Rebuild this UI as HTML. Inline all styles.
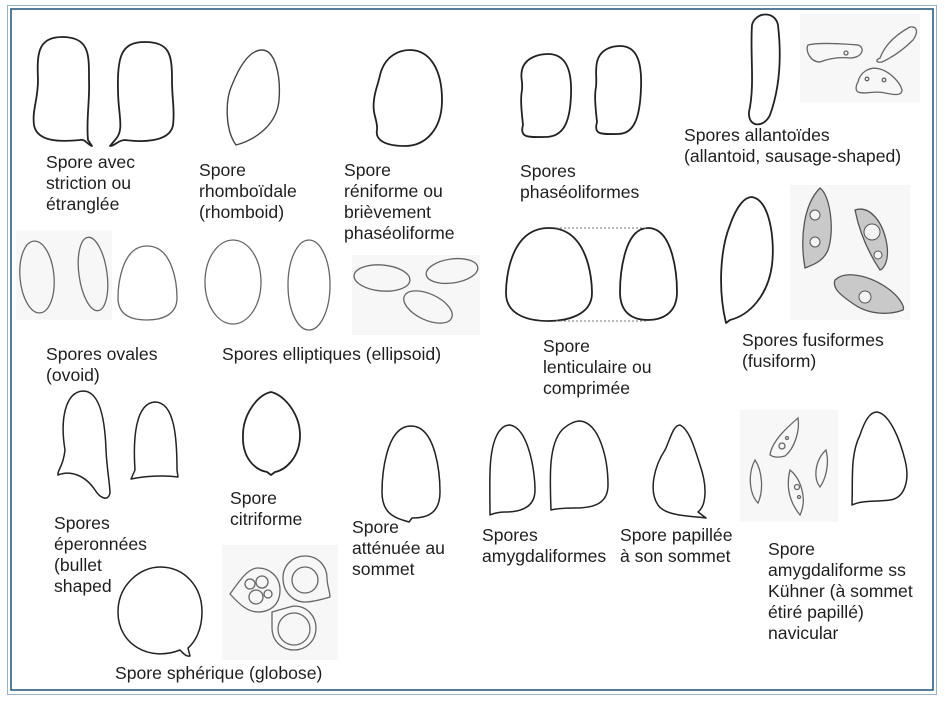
<!DOCTYPE html>
<html><head><meta charset="utf-8"><style>
html,body{margin:0;padding:0;background:#fff;}
svg{display:block;}
text{font-family:"Liberation Sans",Arial,sans-serif;font-size:17.6px;fill:#1e1e1e;}
.d{fill:none;stroke:#222;stroke-width:1.8;stroke-linejoin:round;}
.l{fill:none;stroke:#666;stroke-width:1.3;}
.g{fill:#c9c9c9;stroke:#555;stroke-width:1.3;}
.bg{fill:#f7f7f7;}
</style></head><body>
<svg width="945" height="701" viewBox="0 0 945 701" xmlns="http://www.w3.org/2000/svg">
<rect x="7.5" y="5.5" width="929" height="689" fill="none" stroke="#9bb3c9" stroke-width="1"/>
<rect x="11" y="9" width="922" height="681" fill="none" stroke="#2b5b80" stroke-width="1.6"/>

<rect class="bg" x="16" y="230" width="96" height="90"/>
<rect class="bg" x="800" y="14" width="120" height="88"/>
<rect class="bg" x="790" y="185" width="120" height="135"/>
<rect class="bg" x="352" y="255" width="128" height="80"/>
<rect class="bg" x="740" y="410" width="98" height="112"/>
<rect class="bg" x="222" y="545" width="116" height="115"/>

<path class="d" d="M88 140 C86 120 90 100 89 80 C89 55 90 37 62 37 C37 37 37 55 38 80 C38 100 32 110 34 125 C37 142 60 142 80 140 C85 139 87 144 92 146 Z"/>
<path class="d" d="M115 140 C125 130 118 115 118 90 C117 55 122 42 145 42 C170 42 172 55 172 80 C172 100 175 110 173 125 C170 143 140 142 125 140 C118 140 115 146 110 146 Z"/>
<path class="d" d="M236 145 C225 130 225 100 232 85 C240 65 250 50 262 50 C275 50 281 75 279 100 C277 125 255 140 236 145 Z" style="stroke:#444;stroke-width:1.4"/>
<path class="d" d="M380 75 C385 55 400 50 410 50 C430 50 442 70 442 100 C442 130 425 146 405 146 C385 146 375 140 377 130 C378 120 372 115 374 100 C375 90 378 85 380 75 Z"/>
<path class="d" d="M522 70 C525 57 540 54 548 54 C566 54 572 70 571 95 C570 125 562 137 545 137 C530 137 519 139 523 125 C522 115 520 100 522 90 C523 80 520 78 522 70 Z"/>
<path class="d" d="M597 62 C600 49 612 46 620 46 C637 46 642 62 641 88 C640 118 634 134 618 134 C603 134 593 136 597 122 C596 112 594 97 596 87 C597 77 595 72 597 62 Z"/>
<path class="d" d="M752 25 C755 12 775 10 778 25 C782 60 779 90 770 115 C764 128 748 128 749 112 C755 85 750 55 752 25 Z"/>
<path class="l" d="M808 45 C820 42 845 44 858 45 C866 48 862 58 850 58 C840 57 830 58 820 62 C810 62 805 50 808 45 Z"/>
<circle class="l" cx="846" cy="53" r="2"/>
<path class="l" d="M880 58 C885 45 895 35 910 27 C918 26 918 33 913 40 C905 48 895 56 882 62 C876 63 875 60 880 58 Z"/>
<path class="l" d="M858 82 C860 72 870 66 880 69 C890 72 900 82 902 90 C902 96 895 95 885 93 C875 90 865 95 858 92 C855 90 856 85 858 82 Z"/>
<circle class="l" cx="867" cy="79" r="1.8"/><circle class="l" cx="884" cy="80" r="1.8"/>
<ellipse class="l" cx="37" cy="277" rx="17" ry="36" transform="rotate(-5 37 277)"/>
<ellipse class="l" cx="93" cy="274" rx="14" ry="37" transform="rotate(-8 93 274)"/>
<path class="l" d="M147 246 C174 246 177 287 177 298 C177 316 160 320 147 320 C133 320 118 316 118 298 C118 287 121 246 147 246 Z"/>
<ellipse class="l" cx="233" cy="282" rx="28" ry="42"/>
<ellipse class="l" cx="309" cy="285" rx="21" ry="45"/>
<ellipse class="l" cx="382" cy="278" rx="28" ry="13" transform="rotate(5 382 278)"/>
<ellipse class="l" cx="452" cy="271" rx="26" ry="12" transform="rotate(-8 452 271)"/>
<ellipse class="l" cx="428" cy="307" rx="26" ry="13" transform="rotate(25 428 307)"/>
<path class="d" d="M549 228 C588 228 592 279 592 293 C592 316 565 321 549 321 C530 321 506 316 506 293 C506 279 510 228 549 228 Z"/>
<path class="d" d="M648 228 C674 228 677 278 677 292 C677 315 660 320 648 320 C635 320 620 315 620 292 C620 278 623 228 648 228 Z"/>
<line x1="556" y1="228" x2="646" y2="228" stroke="#777" stroke-width="1" stroke-dasharray="2,2"/>
<line x1="556" y1="321" x2="646" y2="321" stroke="#777" stroke-width="1" stroke-dasharray="2,2"/>
<path class="d" d="M752 197 C770 200 775 240 772 265 C768 295 750 315 730 320 L726 323 C718 290 720 250 730 225 C737 205 745 197 752 197 Z"/>
<path class="g" d="M820 188 C830 195 835 230 828 250 C823 262 812 265 805 268 C800 240 803 205 820 188 Z"/>
<circle cx="815" cy="215" r="5" fill="#f4f4f4" stroke="#555"/><circle cx="815" cy="242" r="5" fill="#f4f4f4" stroke="#555"/>
<path class="g" d="M855 210 C870 205 882 222 886 240 C890 258 885 268 880 270 C870 255 860 235 855 210 Z"/>
<circle cx="872" cy="232" r="8" fill="#f4f4f4" stroke="#555"/><circle cx="878" cy="255" r="4" fill="#f4f4f4" stroke="#555"/>
<path class="g" d="M835 280 C845 270 870 275 890 290 C900 298 905 307 903 310 C890 315 870 315 855 305 C840 295 832 288 835 280 Z"/>
<circle cx="865" cy="297" r="6" fill="#f4f4f4" stroke="#555"/>
<path class="d" d="M65 450 C60 420 65 392 83 391 C100 391 105 420 106 450 C107 470 110 485 110 493 C108 502 100 498 95 490 C85 475 70 470 58 475 C57 470 63 468 65 450 Z" style="stroke-width:1.5"/>
<path class="d" d="M135 470 C133 440 135 403 155 402 C175 402 177 440 177 470 L178 477 C165 475 145 476 131 479 Z" style="stroke-width:1.5"/>
<path class="d" d="M271 392 C285 395 300 415 300 435 C300 458 285 470 275 472 L271 475 L267 472 C255 470 242 458 243 435 C243 415 257 395 271 392 Z"/>
<path class="d" d="M411 426 C437 426 440 478 440 492 C440 515 425 518 412 518 L409 522 C396 518 382 515 382 492 C382 478 385 426 411 426 Z" style="stroke-width:1.5"/>
<path class="d" d="M510 425 C528 428 535 470 535 490 C535 508 520 512 505 512 C498 512 492 514 490 515 C490 485 488 455 496 437 C500 428 505 425 510 425 Z" style="stroke-width:1.5"/>
<path class="d" d="M580 421 C600 423 608 460 608 485 C608 503 595 508 575 508 C565 508 555 509 551 510 C550 480 548 445 562 430 C568 424 575 421 580 421 Z" style="stroke-width:1.5"/>
<path class="d" d="M680 425 C690 430 695 450 700 465 C707 485 707 505 698 512 L706 518 C690 516 665 516 658 505 C648 490 655 465 665 450 C670 440 673 425 680 425 Z" style="stroke-width:1.5"/>
<path class="d" d="M877 412 C890 414 900 440 905 460 C910 480 905 498 890 500 C875 502 862 500 852 505 C853 480 850 455 860 435 C865 420 870 412 877 412 Z" style="stroke-width:1.5"/>
<path class="l" d="M770 455 C772 440 790 425 798 418 C800 430 795 448 785 456 C778 458 773 457 770 455 Z"/>
<circle class="l" cx="782" cy="446" r="3"/><circle class="l" cx="787" cy="438" r="1.5"/>
<path class="l" d="M755 460 C762 470 764 490 758 503 C750 495 747 475 755 460 Z"/>
<path class="l" d="M790 470 C800 478 808 498 800 515 C792 505 785 490 790 470 Z"/>
<circle class="l" cx="797" cy="487" r="2.5"/><circle class="l" cx="799" cy="497" r="1.5"/>
<path class="l" d="M826 450 C830 465 825 480 820 487 C813 478 815 460 826 450 Z"/>
<path class="d" d="M180 650 C150 662 118 645 118 612 C118 585 140 567 160 567 C185 567 202 587 202 612 C202 630 195 642 188 648 L190 656 C186 657 183 653 180 650 Z" style="stroke-width:1.5"/>
<path class="l" d="M280 590 C280 605 270 612 258 612 C248 612 240 605 230 594 C240 580 248 568 258 568 C270 568 280 577 280 590 Z"/>
<circle class="l" cx="250" cy="584" r="5"/><circle class="l" cx="262" cy="582" r="6"/><circle class="l" cx="256" cy="597" r="7"/><circle class="l" cx="268" cy="594" r="4"/>
<path class="l" d="M283 578 C283 565 293 556 305 556 C318 556 327 566 327 578 C327 585 330 592 330 597 C320 600 312 602 305 602 C293 602 283 592 283 578 Z"/>
<circle class="l" cx="305" cy="580" r="13"/>
<path class="l" d="M272 612 C280 610 285 608 294 606 C307 606 316 616 316 628 C316 641 306 650 294 650 C282 650 272 641 272 628 Z"/>
<circle class="l" cx="294" cy="629" r="16"/>

<text x="46" y="168">Spore avec</text><text x="46" y="189">striction ou</text><text x="46" y="210">étranglée</text>
<text x="199" y="176">Spore</text><text x="199" y="197">rhomboïdale</text><text x="199" y="218">(rhomboid)</text>
<text x="344" y="176">Spore</text><text x="344" y="197">réniforme ou</text><text x="344" y="218">brièvement</text><text x="344" y="239">phaséoliforme</text>
<text x="520" y="177">Spores</text><text x="520" y="198">phaséoliformes</text>
<text x="684" y="141">Spores allantoïdes</text><text x="684" y="162">(allantoid, sausage-shaped)</text>
<text x="46" y="360">Spores ovales</text><text x="46" y="381">(ovoid)</text>
<text x="222" y="360">Spores elliptiques (ellipsoid)</text>
<text x="543" y="352">Spore</text><text x="543" y="373">lenticulaire ou</text><text x="543" y="394">comprimée</text>
<text x="742" y="346">Spores fusiformes</text><text x="742" y="367">(fusiform)</text>
<text x="230" y="504">Spore</text><text x="230" y="525">citriforme</text>
<text x="54" y="529">Spores</text><text x="54" y="550">éperonnées</text><text x="54" y="571">(bullet</text><text x="54" y="592">shaped</text>
<text x="352" y="533">Spore</text><text x="352" y="554">atténuée au</text><text x="352" y="575">sommet</text>
<text x="482" y="541">Spores</text><text x="482" y="562">amygdaliformes</text>
<text x="620" y="541">Spore papillée</text><text x="620" y="562">à son sommet</text>
<text x="768" y="555">Spore</text><text x="768" y="576">amygdaliforme ss</text><text x="768" y="597">Kühner (à sommet</text><text x="768" y="618">étiré papillé)</text><text x="768" y="639">navicular</text>
<text x="115" y="679">Spore sphérique (globose)</text>
</svg>
</body></html>
